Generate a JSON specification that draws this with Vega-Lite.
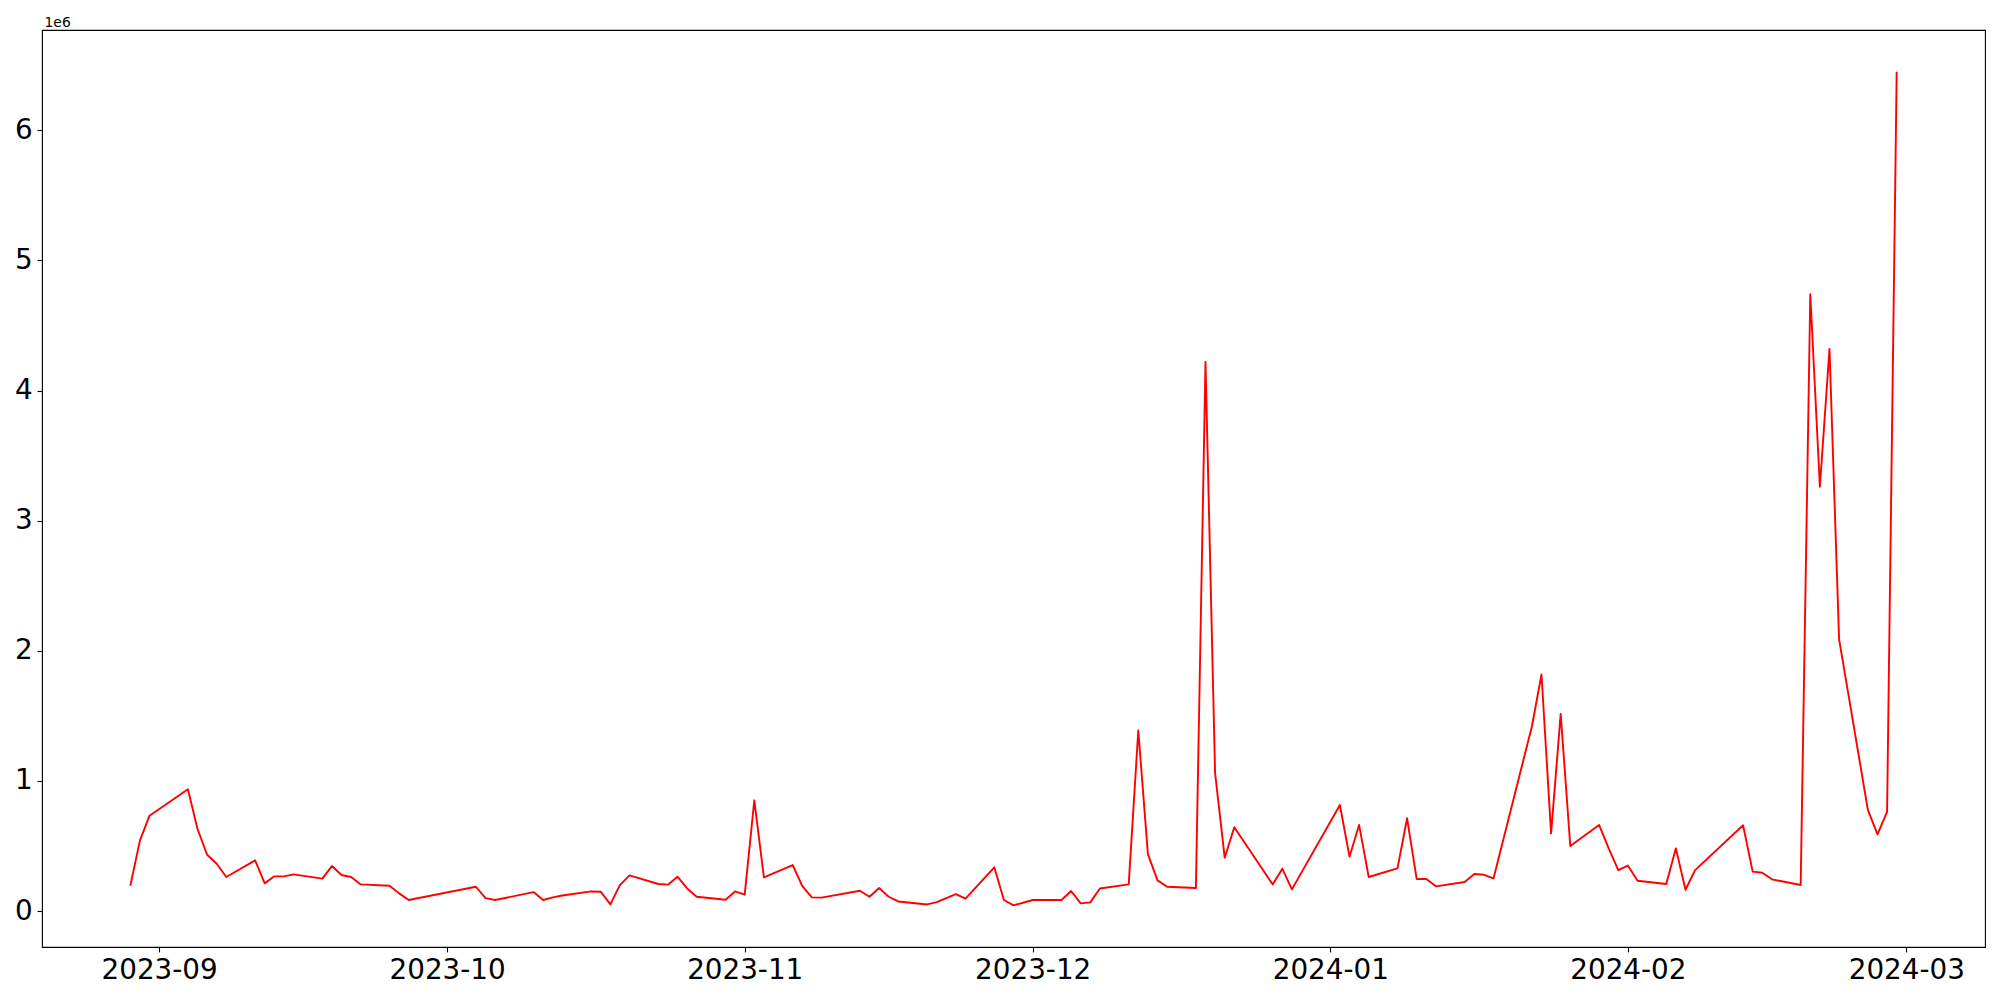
{
  "$schema": "https://vega.github.io/schema/vega-lite/v6.json",
  "width": 1943,
  "height": 917,
  "autosize": {"type": "none"},
  "padding": {"left": 42, "top": 30, "right": 15, "bottom": 53},
  "background": "white",
  "config": {
    "view": {"stroke": "black", "strokeWidth": 1.1},
    "axis": {
      "grid": false,
      "domain": false,
      "tickColor": "black",
      "tickWidth": 1.1,
      "tickSize": 4.9,
      "labelPadding": 4.9,
      "labelFont": "DejaVu Sans",
      "labelFontSize": 27.8,
      "labelColor": "black"
    }
  },
  "data": {
    "values": [
      {"date": "2023-08-29", "value": 195000},
      {"date": "2023-08-30", "value": 541000},
      {"date": "2023-08-31", "value": 733000},
      {"date": "2023-09-04", "value": 936000},
      {"date": "2023-09-05", "value": 631000},
      {"date": "2023-09-06", "value": 433000},
      {"date": "2023-09-07", "value": 364000},
      {"date": "2023-09-08", "value": 262000},
      {"date": "2023-09-11", "value": 390000},
      {"date": "2023-09-12", "value": 213000},
      {"date": "2023-09-13", "value": 267000},
      {"date": "2023-09-14", "value": 267000},
      {"date": "2023-09-15", "value": 282000},
      {"date": "2023-09-18", "value": 249000},
      {"date": "2023-09-19", "value": 346000},
      {"date": "2023-09-20", "value": 277000},
      {"date": "2023-09-21", "value": 262000},
      {"date": "2023-09-22", "value": 205000},
      {"date": "2023-09-25", "value": 195000},
      {"date": "2023-09-26", "value": 136000},
      {"date": "2023-09-27", "value": 85000},
      {"date": "2023-10-04", "value": 187000},
      {"date": "2023-10-05", "value": 100000},
      {"date": "2023-10-06", "value": 85000},
      {"date": "2023-10-10", "value": 146000},
      {"date": "2023-10-11", "value": 85000},
      {"date": "2023-10-12", "value": 105000},
      {"date": "2023-10-13", "value": 120000},
      {"date": "2023-10-16", "value": 151000},
      {"date": "2023-10-17", "value": 149000},
      {"date": "2023-10-18", "value": 51000},
      {"date": "2023-10-19", "value": 200000},
      {"date": "2023-10-20", "value": 274000},
      {"date": "2023-10-23", "value": 208000},
      {"date": "2023-10-24", "value": 203000},
      {"date": "2023-10-25", "value": 264000},
      {"date": "2023-10-26", "value": 174000},
      {"date": "2023-10-27", "value": 110000},
      {"date": "2023-10-30", "value": 87000},
      {"date": "2023-10-31", "value": 151000},
      {"date": "2023-11-01", "value": 126000},
      {"date": "2023-11-02", "value": 851000},
      {"date": "2023-11-03", "value": 259000},
      {"date": "2023-11-06", "value": 354000},
      {"date": "2023-11-07", "value": 192000},
      {"date": "2023-11-08", "value": 105000},
      {"date": "2023-11-09", "value": 103000},
      {"date": "2023-11-13", "value": 156000},
      {"date": "2023-11-14", "value": 110000},
      {"date": "2023-11-15", "value": 177000},
      {"date": "2023-11-16", "value": 110000},
      {"date": "2023-11-17", "value": 74000},
      {"date": "2023-11-20", "value": 51000},
      {"date": "2023-11-21", "value": 69000},
      {"date": "2023-11-23", "value": 131000},
      {"date": "2023-11-24", "value": 95000},
      {"date": "2023-11-27", "value": 336000},
      {"date": "2023-11-28", "value": 85000},
      {"date": "2023-11-29", "value": 44000},
      {"date": "2023-12-01", "value": 85000},
      {"date": "2023-12-04", "value": 85000},
      {"date": "2023-12-05", "value": 154000},
      {"date": "2023-12-06", "value": 59000},
      {"date": "2023-12-07", "value": 67000},
      {"date": "2023-12-08", "value": 174000},
      {"date": "2023-12-11", "value": 205000},
      {"date": "2023-12-12", "value": 1387000},
      {"date": "2023-12-13", "value": 438000},
      {"date": "2023-12-14", "value": 236000},
      {"date": "2023-12-15", "value": 187000},
      {"date": "2023-12-18", "value": 177000},
      {"date": "2023-12-19", "value": 4220000},
      {"date": "2023-12-20", "value": 1059000},
      {"date": "2023-12-21", "value": 410000},
      {"date": "2023-12-22", "value": 644000},
      {"date": "2023-12-26", "value": 205000},
      {"date": "2023-12-27", "value": 326000},
      {"date": "2023-12-28", "value": 167000},
      {"date": "2024-01-02", "value": 815000},
      {"date": "2024-01-03", "value": 418000},
      {"date": "2024-01-04", "value": 662000},
      {"date": "2024-01-05", "value": 262000},
      {"date": "2024-01-08", "value": 328000},
      {"date": "2024-01-09", "value": 713000},
      {"date": "2024-01-10", "value": 246000},
      {"date": "2024-01-11", "value": 246000},
      {"date": "2024-01-12", "value": 190000},
      {"date": "2024-01-15", "value": 223000},
      {"date": "2024-01-16", "value": 285000},
      {"date": "2024-01-17", "value": 279000},
      {"date": "2024-01-18", "value": 251000},
      {"date": "2024-01-22", "value": 1418000},
      {"date": "2024-01-23", "value": 1818000},
      {"date": "2024-01-24", "value": 597000},
      {"date": "2024-01-25", "value": 1515000},
      {"date": "2024-01-26", "value": 500000},
      {"date": "2024-01-29", "value": 662000},
      {"date": "2024-01-30", "value": 482000},
      {"date": "2024-01-31", "value": 315000},
      {"date": "2024-02-01", "value": 350000},
      {"date": "2024-02-02", "value": 233000},
      {"date": "2024-02-05", "value": 208000},
      {"date": "2024-02-06", "value": 482000},
      {"date": "2024-02-07", "value": 164000},
      {"date": "2024-02-08", "value": 315000},
      {"date": "2024-02-13", "value": 659000},
      {"date": "2024-02-14", "value": 303000},
      {"date": "2024-02-15", "value": 295000},
      {"date": "2024-02-16", "value": 244000},
      {"date": "2024-02-19", "value": 200000},
      {"date": "2024-02-20", "value": 4740000},
      {"date": "2024-02-21", "value": 3260000},
      {"date": "2024-02-22", "value": 4320000},
      {"date": "2024-02-23", "value": 2090000},
      {"date": "2024-02-26", "value": 777000},
      {"date": "2024-02-27", "value": 590000},
      {"date": "2024-02-28", "value": 762000},
      {"date": "2024-02-29", "value": 6450000}
    ]
  },
  "mark": {"type": "line", "color": "#ff0000", "strokeWidth": 1.9, "strokeJoin": "round", "clip": true},
  "encoding": {
    "x": {
      "field": "date",
      "type": "temporal",
      "scale": {
        "type": "utc",
        "domain": [
          {"year": 2023, "month": "aug", "date": 19, "hours": 19, "minutes": 12, "utc": true},
          {"year": 2024, "month": "mar", "date": 9, "hours": 4, "minutes": 48, "utc": true}
        ],
        "nice": false
      },
      "axis": {
        "title": null,
        "labelExpr": "utcFormat(datum.value, '%Y-%m')",
        "values": [
          {"year": 2023, "month": "sep", "date": 1, "utc": true},
          {"year": 2023, "month": "oct", "date": 1, "utc": true},
          {"year": 2023, "month": "nov", "date": 1, "utc": true},
          {"year": 2023, "month": "dec", "date": 1, "utc": true},
          {"year": 2024, "month": "jan", "date": 1, "utc": true},
          {"year": 2024, "month": "feb", "date": 1, "utc": true},
          {"year": 2024, "month": "mar", "date": 1, "utc": true}
        ],
        "labelOverlap": false
      }
    },
    "y": {
      "field": "value",
      "type": "quantitative",
      "scale": {"domain": [-276000, 6770000], "nice": false, "zero": false},
      "axis": {
        "values": [0, 1000000, 2000000, 3000000, 4000000, 5000000, 6000000],
        "labelExpr": "format(datum.value / 1000000, 'd')",
        "title": "1e6",
        "titleAngle": 0,
        "titleAlign": "left",
        "titleBaseline": "alphabetic",
        "titleX": 2,
        "titleY": -4,
        "titleFont": "DejaVu Sans",
        "titleFontSize": 13.9,
        "titleFontWeight": "normal",
        "titleColor": "black"
      }
    }
  }
}
